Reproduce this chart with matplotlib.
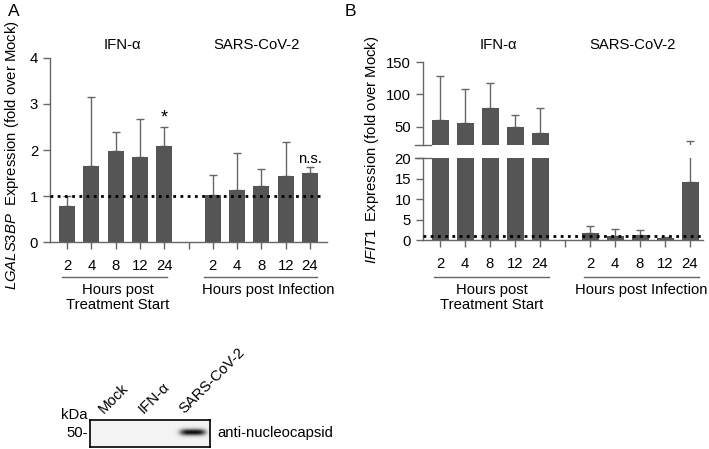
import numpy as np
import matplotlib
matplotlib.use('Agg')
import matplotlib.pyplot as plt
import matplotlib.transforms as mtransforms

plt.rcParams['font.family'] = ['Liberation Sans', 'DejaVu Sans']
plt.rcParams['mathtext.fontset'] = 'custom'
plt.rcParams['mathtext.it'] = 'Liberation Sans:italic'
plt.rcParams['mathtext.rm'] = 'Liberation Sans'

# data (bar height, top of error bar)
hours = ['2', '4', '8', '12', '24']
a_ifn = [0.79, 1.65, 1.98, 1.85, 2.09]
a_ifn_top = [1.00, 3.15, 2.40, 2.68, 2.49]
a_sars = [1.02, 1.14, 1.22, 1.44, 1.49]
a_sars_top = [1.45, 1.94, 1.58, 2.17, 1.62]
b_ifn = [59.5, 56, 79, 50, 40.5]
b_ifn_top = [128, 108, 118, 68, 79]
b_sars = [1.6, 1.0, 1.2, 0.6, 14.2]
b_sars_top = [3.4, 2.6, 2.4, 0.8, 28]
lanes = ['Mock', 'IFN-α', 'SARS-CoV-2']
band = [0, 0, 1]

W, H = 709, 449
FS = 10.7
BAR = '#555555'
GRAY = '#666666'

fig = plt.figure(figsize=(W / 100, H / 100), dpi=100)


def box(l, t, r, b):
    return [l / W, 1 - b / H, (r - l) / W, (b - t) / H]


def fy(y):
    return 1 - y / H


x_ifn = np.arange(5)
x_sars = np.arange(6, 11)
xticks = list(range(11))
xlabels = hours + [''] + hours


def style(ax, xlim, bottom=True):
    for s in ['top', 'right']:
        ax.spines[s].set_visible(False)
    for s in ['left', 'bottom']:
        ax.spines[s].set_color(GRAY)
        ax.spines[s].set_linewidth(1)
    ax.spines['bottom'].set_visible(bottom)
    ax.tick_params(colors=GRAY, labelcolor='black', labelsize=FS, length=5, width=1)
    ax.set_xlim(xlim)
    ax.patch.set_alpha(0)
    if bottom:
        ax.set_xticks(xticks)
        ax.set_xticklabels(xlabels)
        ax.tick_params(axis='x', pad=7)
    else:
        ax.set_xticks([])


def bars(ax, x, v, top, w):
    v = np.array(v)
    top = np.array(top)
    ax.bar(x, v, w, color=BAR, zorder=2)
    ax.errorbar(x, v, yerr=[np.zeros(len(v)), top - v], fmt='none', ecolor=GRAY,
                elinewidth=1, capsize=2.8, capthick=1, zorder=1)


def groups(ax, lines, texts):
    tr = mtransforms.blended_transform_factory(ax.transData, fig.transFigure)
    for x0, x1 in lines:
        ax.plot([x0, x1], [fy(277), fy(277)], color=GRAY, lw=1, transform=tr, clip_on=False)
    for x, s in texts:
        ax.text(x, fy(283), s, ha='center', va='top', fontsize=FS, transform=tr, linespacing=1.1)


def titles(ax, xs):
    tr = mtransforms.blended_transform_factory(ax.transData, fig.transFigure)
    for x, s in zip(xs, ['IFN-α', 'SARS-CoV-2']):
        ax.text(x, fy(45), s, ha='center', va='center', fontsize=FS, transform=tr)


# ---- panel A ----
axA = fig.add_axes(box(50, 58, 327, 242))
bars(axA, x_ifn, a_ifn, a_ifn_top, 0.66)
bars(axA, x_sars, a_sars, a_sars_top, 0.66)
axA.axhline(1, xmin=0, xmax=0.98, color='black', lw=2, ls=(0, (1, 1.6)), zorder=3)
axA.set_ylim(0, 4)
axA.set_yticks([0, 1, 2, 3, 4])
style(axA, (-0.7, 10.7))
axA.text(4, 2.7, '*', ha='center', va='center', fontsize=13)
axA.text(10, 1.65, 'n.s.', ha='center', va='bottom', fontsize=FS)
groups(axA, [(-0.2, 4.1), (5.65, 10.3)],
       [(2.1, 'Hours post\nTreatment Start'), (8.27, 'Hours post Infection')])
titles(axA, [2.3, 7.82])
fig.text(12 / W, fy(155), r'$\it{LGALS3BP}$  Expression (fold over Mock)',
         rotation=90, ha='center', va='center', fontsize=FS)

# ---- panel B (broken axis) ----
xlimB = (-0.68, 10.52)
axBt = fig.add_axes(box(423, 62, 703, 145))
axBb = fig.add_axes(box(423, 158, 703, 240))
for ax in (axBt, axBb):
    bars(ax, x_ifn, b_ifn, b_ifn_top, 0.68)
    bars(ax, x_sars, b_sars, b_sars_top, 0.68)
axBt.set_ylim(21.5, 150)
axBt.set_yticks([50, 100, 150])
style(axBt, xlimB, bottom=False)
axBb.set_ylim(0, 20)
axBb.set_yticks([0, 5, 10, 15, 20])
style(axBb, xlimB)
axBb.axhline(1, color='black', lw=2, ls=(0, (1, 1.6)), zorder=3)
# break marks
axBt.plot([-0.03, 0.03], [0, 0], color=GRAY, lw=1, transform=axBt.transAxes, clip_on=False)
axBb.plot([-0.03, 0.03], [1, 1], color=GRAY, lw=1, transform=axBb.transAxes, clip_on=False)
groups(axBb, [(-0.24, 4.36), (5.76, 10.36)],
       [(2.08, 'Hours post\nTreatment Start'), (8.04, 'Hours post Infection')])
titles(axBt, [2.32, 7.7])
fig.text(372 / W, fy(150), r'$\it{IFIT1}$  Expression (fold over Mock)',
         rotation=90, ha='center', va='center', fontsize=FS)

fig.text(8 / W, fy(12), 'A', ha='left', va='center', fontsize=12.5)
fig.text(345 / W, fy(12), 'B', ha='left', va='center', fontsize=12.5)

# ---- western blot ----
axW = fig.add_axes(box(90, 420, 210, 447))
nx, ny = 120, 27
xs = np.linspace(0, 3, nx)
ys = np.linspace(0, 1, ny)
horiz = np.zeros(nx)
for i, s in enumerate(band):
    horiz += s * np.exp(-((xs - (i + 0.58)) / 0.34) ** 4)
vert = np.exp(-((ys - 0.45) / 0.14) ** 2)
img = 0.1 + 0.85 * np.outer(vert, horiz)
axW.imshow(img, cmap='Greys', vmin=0, vmax=1, aspect='auto', extent=(0, 3, 1, 0),
           interpolation='bilinear')
axW.set_xticks([])
axW.set_yticks([])
for s in axW.spines.values():
    s.set_linewidth(1.2)
    s.set_color('black')
trW = mtransforms.blended_transform_factory(axW.transData, fig.transFigure)
for i, s in enumerate(lanes):
    axW.text(i + 0.35, fy(414), s, rotation=45, rotation_mode='anchor', ha='left',
             va='baseline', fontsize=FS, transform=trW)
fig.text(88 / W, fy(415), 'kDa', ha='right', va='center', fontsize=FS)
fig.text(88 / W, fy(433), '50-', ha='right', va='center', fontsize=FS)
fig.text(217 / W, fy(433), 'anti-nucleocapsid', ha='left', va='center', fontsize=FS)

fig.savefig('out.png', dpi=100)
